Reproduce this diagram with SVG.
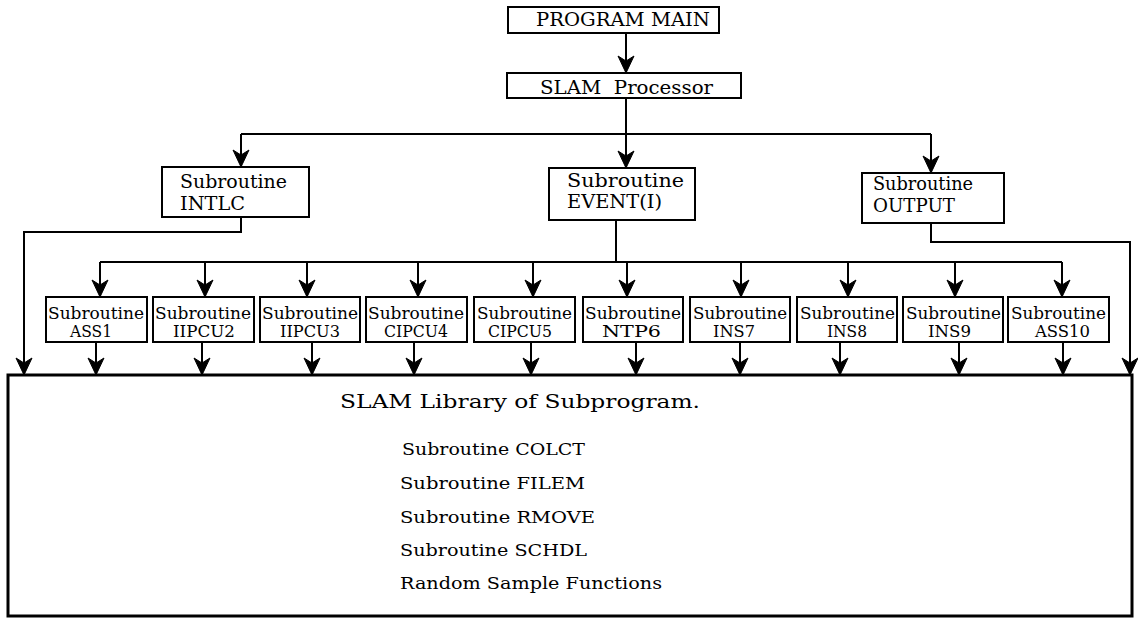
<svg xmlns="http://www.w3.org/2000/svg" width="1138" height="618" viewBox="0 0 1138 618">
<defs>
<marker id="arr" markerUnits="userSpaceOnUse" viewBox="-20 -10 22 20" refX="0" refY="0" markerWidth="22" markerHeight="20" orient="auto">
<path d="M0,0 L-17,-8 L-12,0 L-17,8 Z" fill="#000" stroke="#000" stroke-width="1" stroke-linejoin="miter"/>
</marker>
<style>
.box{fill:#fff;stroke:#000;stroke-width:2}
.big{fill:#fff;stroke:#000;stroke-width:3}
.ln{fill:none;stroke:#000;stroke-width:2}
.ar{fill:none;stroke:#000;stroke-width:2;marker-end:url(#arr)}
text{font-family:"DejaVu Serif","Liberation Serif",serif;fill:#000}
.t18{font-size:18px}
.t16{font-size:16px}
.t17{font-size:17px}
</style>
</defs>
<rect width="1138" height="618" fill="#fff"/>

<g id="connectors">
<path class="ar" d="M626,33 V73"/>
<path class="ln" d="M626,98 V134 M241,134 H931"/>
<path class="ar" d="M241,134 V167"/>
<path class="ar" d="M626,134 V168"/>
<path class="ar" d="M931,134 V173"/>
<path class="ar" d="M241,217 V232 H24 V375"/>
<path class="ar" d="M931,223 V242 H1130 V375"/>
<path class="ln" d="M616,220 V262 M100,262 H1062"/>
<path class="ar" d="M100,262 V297"/>
<path class="ar" d="M205,262 V297"/>
<path class="ar" d="M307,262 V297"/>
<path class="ar" d="M418,262 V297"/>
<path class="ar" d="M533,262 V297"/>
<path class="ar" d="M627,262 V297"/>
<path class="ar" d="M741,262 V297"/>
<path class="ar" d="M848,262 V297"/>
<path class="ar" d="M955,262 V297"/>
<path class="ar" d="M1062,262 V297"/>
<path class="ar" d="M96,342 V375"/>
<path class="ar" d="M202,342 V375"/>
<path class="ar" d="M312,342 V375"/>
<path class="ar" d="M414,342 V375"/>
<path class="ar" d="M531,342 V375"/>
<path class="ar" d="M636,342 V375"/>
<path class="ar" d="M740,342 V375"/>
<path class="ar" d="M840,342 V375"/>
<path class="ar" d="M959,342 V375"/>
<path class="ar" d="M1063,342 V375"/>
</g>

<g id="main">
<rect class="box" x="508" y="7" width="211" height="26"/>
<text class="t18" x="536" y="26" textLength="174" lengthAdjust="spacingAndGlyphs">PROGRAM MAIN</text>
</g>
<g id="processor">
<rect class="box" x="507" y="73" width="234" height="25"/>
<text class="t18" x="540" y="94" textLength="173" lengthAdjust="spacingAndGlyphs" xml:space="preserve">SLAM  Processor</text>
</g>
<g id="intlc">
<rect class="box" x="162" y="167" width="147" height="50"/>
<text class="t18" x="180" y="188" textLength="107" lengthAdjust="spacingAndGlyphs">Subroutine</text>
<text class="t18" x="180" y="210" textLength="65" lengthAdjust="spacingAndGlyphs">INTLC</text>
</g>
<g id="event">
<rect class="box" x="549" y="168" width="146" height="52"/>
<text class="t18" x="567" y="187" textLength="117" lengthAdjust="spacingAndGlyphs">Subroutine</text>
<text class="t18" x="567" y="208" textLength="95" lengthAdjust="spacingAndGlyphs">EVENT(I)</text>
</g>
<g id="output">
<rect class="box" x="862" y="173" width="142" height="50"/>
<text class="t18" x="873" y="190" textLength="100" lengthAdjust="spacingAndGlyphs">Subroutine</text>
<text class="t18" x="873" y="212" textLength="82" lengthAdjust="spacingAndGlyphs">OUTPUT</text>
</g>

<g id="ass1">
<rect class="box" x="46" y="297" width="101" height="45"/>
<text class="t16" x="48" y="319" textLength="96" lengthAdjust="spacingAndGlyphs">Subroutine</text>
<text class="t16" x="70" y="337" textLength="42" lengthAdjust="spacingAndGlyphs">ASS1</text>
</g>
<g id="iipcu2">
<rect class="box" x="153" y="297" width="101" height="45"/>
<text class="t16" x="155" y="319" textLength="96" lengthAdjust="spacingAndGlyphs">Subroutine</text>
<text class="t16" x="173" y="337" textLength="62" lengthAdjust="spacingAndGlyphs">IIPCU2</text>
</g>
<g id="iipcu3">
<rect class="box" x="260" y="297" width="100" height="45"/>
<text class="t16" x="262" y="319" textLength="96" lengthAdjust="spacingAndGlyphs">Subroutine</text>
<text class="t16" x="280" y="337" textLength="60" lengthAdjust="spacingAndGlyphs">IIPCU3</text>
</g>
<g id="cipcu4">
<rect class="box" x="366" y="297" width="101" height="45"/>
<text class="t16" x="368" y="319" textLength="96" lengthAdjust="spacingAndGlyphs">Subroutine</text>
<text class="t16" x="384" y="337" textLength="64" lengthAdjust="spacingAndGlyphs">CIPCU4</text>
</g>
<g id="cipcu5">
<rect class="box" x="474" y="297" width="101" height="45"/>
<text class="t16" x="477" y="319" textLength="95" lengthAdjust="spacingAndGlyphs">Subroutine</text>
<text class="t16" x="488" y="337" textLength="64" lengthAdjust="spacingAndGlyphs">CIPCU5</text>
</g>
<g id="ntp6">
<rect class="box" x="583" y="297" width="100" height="45"/>
<text class="t16" x="585" y="319" textLength="96" lengthAdjust="spacingAndGlyphs">Subroutine</text>
<text class="t16" x="602" y="337" textLength="59" lengthAdjust="spacingAndGlyphs">NTP6</text>
</g>
<g id="ins7">
<rect class="box" x="690" y="297" width="100" height="45"/>
<text class="t16" x="693" y="319" textLength="94" lengthAdjust="spacingAndGlyphs">Subroutine</text>
<text class="t16" x="713" y="337" textLength="42" lengthAdjust="spacingAndGlyphs">INS7</text>
</g>
<g id="ins8">
<rect class="box" x="797" y="297" width="100" height="45"/>
<text class="t16" x="800" y="319" textLength="95" lengthAdjust="spacingAndGlyphs">Subroutine</text>
<text class="t16" x="827" y="337" textLength="40" lengthAdjust="spacingAndGlyphs">INS8</text>
</g>
<g id="ins9">
<rect class="box" x="903" y="297" width="100" height="45"/>
<text class="t16" x="906" y="319" textLength="95" lengthAdjust="spacingAndGlyphs">Subroutine</text>
<text class="t16" x="928" y="337" textLength="43" lengthAdjust="spacingAndGlyphs">INS9</text>
</g>
<g id="ass10">
<rect class="box" x="1008" y="297" width="101" height="45"/>
<text class="t16" x="1011" y="319" textLength="95" lengthAdjust="spacingAndGlyphs">Subroutine</text>
<text class="t16" x="1035" y="337" textLength="55" lengthAdjust="spacingAndGlyphs">ASS10</text>
</g>

<g id="library">
<rect class="big" x="8" y="375" width="1124" height="241"/>
<text class="t18" x="340" y="408" textLength="360" lengthAdjust="spacingAndGlyphs">SLAM Library of Subprogram.</text>
<text class="t17" x="402" y="455" textLength="183" lengthAdjust="spacingAndGlyphs">Subroutine COLCT</text>
<text class="t17" x="400" y="489" textLength="185" lengthAdjust="spacingAndGlyphs">Subroutine FILEM</text>
<text class="t17" x="400" y="523" textLength="195" lengthAdjust="spacingAndGlyphs">Subroutine RMOVE</text>
<text class="t17" x="400" y="556" textLength="187" lengthAdjust="spacingAndGlyphs">Subroutine SCHDL</text>
<text class="t17" x="400" y="589" textLength="262" lengthAdjust="spacingAndGlyphs">Random Sample Functions</text>
</g>
</svg>
